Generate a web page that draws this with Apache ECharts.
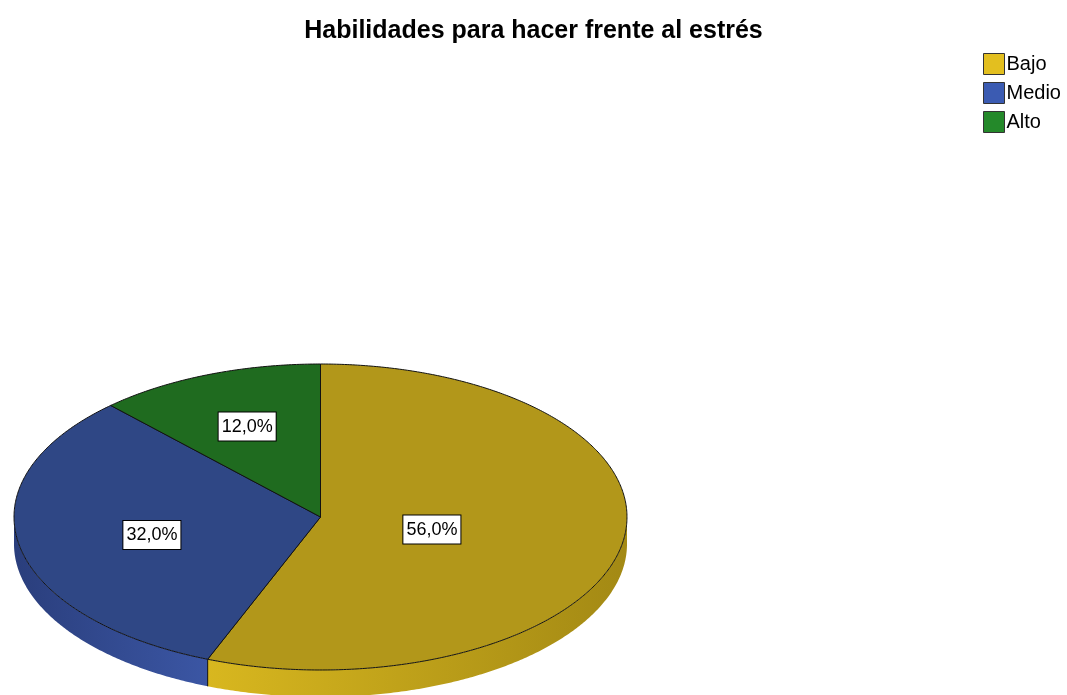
<!DOCTYPE html>
<html>
<head>
<meta charset="utf-8">
<script src="https://cdn.jsdelivr.net/npm/echarts@6/dist/echarts.min.js"></script>
<style>
  html, body { margin: 0; padding: 0; background: #fff; }
  #main { width: 1067px; height: 695px; }
</style>
</head>
<body>
<div id="main"></div>
<script>
// datos del grafico
var categories = ['Bajo', 'Medio', 'Alto'];
var values = [56, 32, 12];

// colores (cara superior, lateral, leyenda)
var topColors = ['#b2971a', '#2f4785', '#1f6b1f'];
var sideLight = ['#d8b71f', '#3b56a4', '#278227'];
var sideDark = ['#a38914', '#2a3e7c', '#1a5c1a'];
var legendColors = ['#e3bf1f', '#3b5bb2', '#24892a'];
var labelRadius = [0.37, 0.56, 0.65];

var myChart = echarts.init(document.getElementById('main'));

var cx = 320.5, cy = 517, rx = 306.5, ry = 153, depth = 27;

function total() {
    return values.reduce(function (a, b) { return a + b; }, 0);
}
function pt(theta, dy) {
    return [cx + rx * Math.sin(theta), cy - ry * Math.cos(theta) + (dy || 0)];
}
function arc(a0, a1, dy) {
    var pts = [];
    var n = Math.max(2, Math.ceil((a1 - a0) / (Math.PI / 360)));
    for (var k = 0; k <= n; k++) {
        pts.push(pt(a0 + (a1 - a0) * k / n, dy));
    }
    return pts;
}

function makeRender(i) {
    return function (params, api) {
        var sum = total();
        var before = 0;
        for (var k = 0; k < i; k++) before += values[k];
        var a0 = before / sum * Math.PI * 2;
        var a1 = (before + api.value(0)) / sum * Math.PI * 2;
        var children = [];

        // lateral visible (mitad inferior)
        var s0 = Math.max(a0, Math.PI / 2), s1 = Math.min(a1, Math.PI * 1.5);
        if (s1 > s0) {
            var upper = arc(s0, s1, 0);
            var lower = arc(s0, s1, depth).reverse();
            var xs = upper.map(function (p) { return p[0]; });
            var xmin = Math.min.apply(null, xs), xmax = Math.max.apply(null, xs);
            // la parte frontal (cerca de 180 grados) es la mas clara
            var front = pt(Math.PI)[0];
            var stops = Math.abs(xmax - front) > Math.abs(xmin - front)
                ? [{offset: 0, color: sideLight[i]}, {offset: 1, color: sideDark[i]}]
                : [{offset: 0, color: sideDark[i]}, {offset: 1, color: sideLight[i]}];
            children.push({
                type: 'polygon',
                shape: {points: upper.concat(lower)},
                style: {
                    fill: {type: 'linear', x: xmin, y: 0, x2: xmax, y2: 0, global: true, colorStops: stops},
                    stroke: null
                },
                z2: 1
            });
            if (a1 > Math.PI / 2 && a1 < Math.PI * 1.5) {
                var e = pt(a1);
                children.push({
                    type: 'line',
                    shape: {x1: e[0], y1: e[1], x2: e[0], y2: e[1] + depth},
                    style: {stroke: '#111', lineWidth: 1},
                    z2: 2
                });
            }
        }

        // cara superior
        children.push({
            type: 'polygon',
            shape: {points: [[cx, cy]].concat(arc(a0, a1, 0))},
            style: {fill: topColors[i], stroke: '#111', lineWidth: 1, lineJoin: 'round'},
            z2: 3
        });

        // etiqueta
        var mid = (a0 + a1) / 2;
        var lx = cx + rx * labelRadius[i] * Math.sin(mid);
        var ly = cy - ry * labelRadius[i] * Math.cos(mid);
        var pct = (api.value(0) / sum * 100).toFixed(1).replace('.', ',') + '%';
        children.push({
            type: 'text',
            x: lx, y: ly + 2,
            style: {
                text: pct,
                fill: '#000',
                font: '18px "Liberation Sans", Arial, sans-serif',
                align: 'center',
                verticalAlign: 'middle',
                backgroundColor: '#fff',
                borderColor: '#000',
                borderWidth: 1,
                padding: [6, 3, 4, 3]
            },
            z2: 10
        });
        return {type: 'group', children: children};
    };
}

var series = categories.map(function (name, i) {
    return {
        name: name,
        type: 'custom',
        coordinateSystem: 'none',
        renderItem: makeRender(i),
        itemStyle: {color: legendColors[i]},
        data: [[values[i]]],
        z: i === 2 ? 3 : 2
    };
});

option = {
    animation: false,
    title: {
        text: 'Habilidades para hacer frente al estrés',
        left: 'center',
        top: 14,
        textStyle: {
            fontFamily: '"Liberation Sans", Arial, sans-serif',
            fontSize: 25,
            fontWeight: 'bold',
            color: '#000'
        }
    },
    legend: {
        orient: 'vertical',
        left: 978,
        top: 48,
        itemWidth: 21,
        itemHeight: 21,
        itemGap: 7,
        icon: 'rect',
        itemStyle: {borderColor: '#333', borderWidth: 1},
        textStyle: {
            fontFamily: '"Liberation Sans", Arial, sans-serif',
            fontSize: 20,
            color: '#000',
            padding: [0, 0, 0, -3]
        },
        data: categories
    },
    series: series
};

myChart.setOption(option);
</script>
</body>
</html>
